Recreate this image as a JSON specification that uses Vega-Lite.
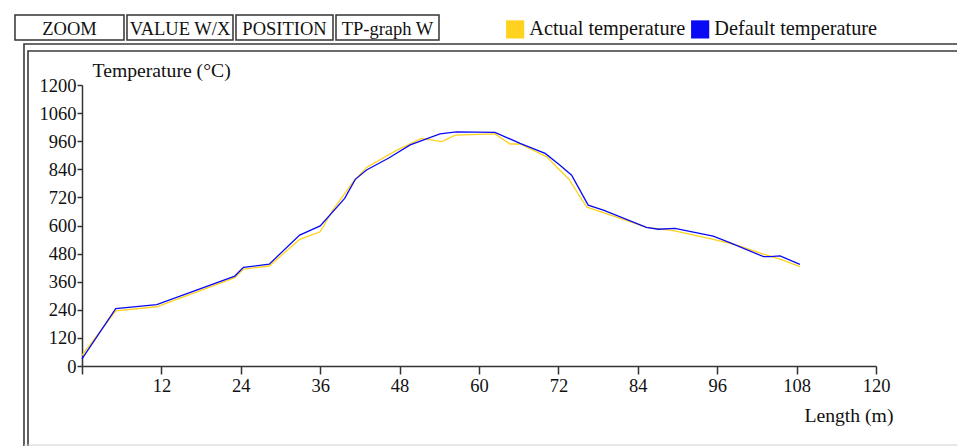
{
  "$schema": "https://vega.github.io/schema/vega-lite/v6.json",
  "width": 794,
  "height": 281,
  "autosize": {"type": "none"},
  "padding": {"left": 82, "top": 85, "right": 81, "bottom": 80},
  "background": "white",
  "config": {
    "view": {"stroke": null},
    "font": "Liberation Serif",
    "axis": {"labelFont": "Liberation Serif", "titleFont": "Liberation Serif", "labelColor": "#111", "titleColor": "#111", "domainColor": "#333", "tickColor": "#333", "domainWidth": 1.5, "tickWidth": 1.5, "grid": false, "labelFontSize": 18.5, "titleFontSize": 19.7, "titleFontWeight": "normal", "labelOverlap": false, "labelFlush": false}
  },
  "datasets": {
    "temps": [
      {"length": 0, "temp": 45, "series": "Actual temperature"},
      {"length": 5.1, "temp": 235, "series": "Actual temperature"},
      {"length": 11.3, "temp": 253, "series": "Actual temperature"},
      {"length": 23.1, "temp": 377, "series": "Actual temperature"},
      {"length": 24.4, "temp": 414, "series": "Actual temperature"},
      {"length": 28.3, "temp": 427, "series": "Actual temperature"},
      {"length": 32.9, "temp": 541, "series": "Actual temperature"},
      {"length": 36, "temp": 573, "series": "Actual temperature"},
      {"length": 37.9, "temp": 666, "series": "Actual temperature"},
      {"length": 41, "temp": 787, "series": "Actual temperature"},
      {"length": 43, "temp": 848, "series": "Actual temperature"},
      {"length": 47.6, "temp": 922, "series": "Actual temperature"},
      {"length": 51.3, "temp": 972, "series": "Actual temperature"},
      {"length": 54.4, "temp": 958, "series": "Actual temperature"},
      {"length": 56.4, "temp": 986, "series": "Actual temperature"},
      {"length": 62.4, "temp": 991, "series": "Actual temperature"},
      {"length": 64.7, "temp": 948, "series": "Actual temperature"},
      {"length": 66.2, "temp": 948, "series": "Actual temperature"},
      {"length": 70.2, "temp": 894, "series": "Actual temperature"},
      {"length": 72.2, "temp": 837, "series": "Actual temperature"},
      {"length": 73.5, "temp": 801, "series": "Actual temperature"},
      {"length": 76.3, "temp": 678, "series": "Actual temperature"},
      {"length": 78.8, "temp": 655, "series": "Actual temperature"},
      {"length": 85.3, "temp": 592, "series": "Actual temperature"},
      {"length": 89.4, "temp": 578, "series": "Actual temperature"},
      {"length": 95.4, "temp": 541, "series": "Actual temperature"},
      {"length": 98.4, "temp": 521, "series": "Actual temperature"},
      {"length": 103, "temp": 478, "series": "Actual temperature"},
      {"length": 105.5, "temp": 456, "series": "Actual temperature"},
      {"length": 108.5, "temp": 424, "series": "Actual temperature"},
      {"length": 0, "temp": 30, "series": "Default temperature"},
      {"length": 5.1, "temp": 245, "series": "Default temperature"},
      {"length": 11.3, "temp": 262, "series": "Default temperature"},
      {"length": 23.1, "temp": 384, "series": "Default temperature"},
      {"length": 24.4, "temp": 421, "series": "Default temperature"},
      {"length": 28.3, "temp": 435, "series": "Default temperature"},
      {"length": 32.9, "temp": 559, "series": "Default temperature"},
      {"length": 36, "temp": 598, "series": "Default temperature"},
      {"length": 39.7, "temp": 716, "series": "Default temperature"},
      {"length": 41.3, "temp": 797, "series": "Default temperature"},
      {"length": 43, "temp": 837, "series": "Default temperature"},
      {"length": 46.3, "temp": 887, "series": "Default temperature"},
      {"length": 49.6, "temp": 944, "series": "Default temperature"},
      {"length": 54.1, "temp": 991, "series": "Default temperature"},
      {"length": 56.6, "temp": 1000, "series": "Default temperature"},
      {"length": 62.4, "temp": 998, "series": "Default temperature"},
      {"length": 66.2, "temp": 951, "series": "Default temperature"},
      {"length": 70, "temp": 908, "series": "Default temperature"},
      {"length": 72.2, "temp": 858, "series": "Default temperature"},
      {"length": 74, "temp": 815, "series": "Default temperature"},
      {"length": 76.5, "temp": 687, "series": "Default temperature"},
      {"length": 78.8, "temp": 666, "series": "Default temperature"},
      {"length": 85.3, "temp": 592, "series": "Default temperature"},
      {"length": 87.1, "temp": 584, "series": "Default temperature"},
      {"length": 89.6, "temp": 588, "series": "Default temperature"},
      {"length": 95.4, "temp": 555, "series": "Default temperature"},
      {"length": 97.9, "temp": 527, "series": "Default temperature"},
      {"length": 103, "temp": 467, "series": "Default temperature"},
      {"length": 104, "temp": 467, "series": "Default temperature"},
      {"length": 105.5, "temp": 470, "series": "Default temperature"},
      {"length": 108.5, "temp": 434, "series": "Default temperature"}
    ]
  },
  "layer": [
    {
      "data": {"values": [{"part": "frame"}]},
      "mark": {"type": "rect", "filled": false, "stroke": "#3a3a3a", "strokeWidth": 1.6},
      "encoding": {
        "x": {"datum": -8.766, "type": "quantitative"},
        "x2": {"datum": 150},
        "y": {"datum": 1375.1, "type": "quantitative"},
        "y2": {"datum": -401.4}
      }
    },
    {
      "data": {"values": [{"part": "frame"}]},
      "mark": {"type": "rect", "filled": false, "stroke": "#3a3a3a", "strokeWidth": 1.6},
      "encoding": {
        "x": {"datum": -8.161, "type": "quantitative"},
        "x2": {"datum": 150},
        "y": {"datum": 1345.2, "type": "quantitative"},
        "y2": {"datum": -401.4}
      }
    },
    {
      "data": {"values": [{"part": "frame"}]},
      "mark": {"type": "rule", "stroke": "#d0d0d0", "strokeWidth": 1},
      "encoding": {
        "x": {"datum": -8.766, "type": "quantitative"},
        "x2": {"datum": 150},
        "y": {"datum": -337.4, "type": "quantitative"}
      }
    },
    {
      "data": {"values": [{"label": "ZOOM"}]},
      "layer": [
        {"mark": {"type": "rect", "fill": "white", "stroke": "#333", "strokeWidth": 1.5},
         "encoding": {"x": {"datum": -10.126, "type": "quantitative"}, "x2": {"datum": 6.347}, "y": {"datum": 1498.9, "type": "quantitative"}, "y2": {"datum": 1392.1}}},
        {"mark": {"type": "text", "fontSize": 18.5, "font": "Liberation Serif", "color": "#111", "baseline": "middle", "align": "center"},
         "encoding": {"x": {"datum": -1.889, "type": "quantitative"}, "y": {"datum": 1440, "type": "quantitative"}, "text": {"field": "label"}}}
      ]
    },
    {
      "data": {"values": [{"label": "VALUE W/X"}]},
      "layer": [
        {"mark": {"type": "rect", "fill": "white", "stroke": "#333", "strokeWidth": 1.5},
         "encoding": {"x": {"datum": 6.801, "type": "quantitative"}, "x2": {"datum": 22.821}, "y": {"datum": 1498.9, "type": "quantitative"}, "y2": {"datum": 1392.1}}},
        {"mark": {"type": "text", "fontSize": 18.5, "font": "Liberation Serif", "color": "#111", "baseline": "middle", "align": "center"},
         "encoding": {"x": {"datum": 14.811, "type": "quantitative"}, "y": {"datum": 1440, "type": "quantitative"}, "text": {"field": "label"}}}
      ]
    },
    {
      "data": {"values": [{"label": "POSITION"}]},
      "layer": [
        {"mark": {"type": "rect", "fill": "white", "stroke": "#333", "strokeWidth": 1.5},
         "encoding": {"x": {"datum": 23.274, "type": "quantitative"}, "x2": {"datum": 37.934}, "y": {"datum": 1498.9, "type": "quantitative"}, "y2": {"datum": 1392.1}}},
        {"mark": {"type": "text", "fontSize": 18.5, "font": "Liberation Serif", "color": "#111", "baseline": "middle", "align": "center"},
         "encoding": {"x": {"datum": 30.604, "type": "quantitative"}, "y": {"datum": 1440, "type": "quantitative"}, "text": {"field": "label"}}}
      ]
    },
    {
      "data": {"values": [{"label": "TP-graph W"}]},
      "layer": [
        {"mark": {"type": "rect", "fill": "white", "stroke": "#333", "strokeWidth": 1.5},
         "encoding": {"x": {"datum": 38.387, "type": "quantitative"}, "x2": {"datum": 53.954}, "y": {"datum": 1498.9, "type": "quantitative"}, "y2": {"datum": 1392.1}}},
        {"mark": {"type": "text", "fontSize": 18.5, "font": "Liberation Serif", "color": "#111", "baseline": "middle", "align": "center"},
         "encoding": {"x": {"datum": 46.17, "type": "quantitative"}, "y": {"datum": 1440, "type": "quantitative"}, "text": {"field": "label"}}}
      ]
    },
    {
      "data": {"name": "temps"},
      "mark": {"type": "line", "strokeWidth": 1.3},
      "encoding": {
        "x": {
          "field": "length", "type": "quantitative",
          "scale": {"domain": [0, 120], "nice": false, "zero": false},
          "axis": {
            "values": [0, 12, 24, 36, 48, 60, 72, 84, 96, 108, 120],
            "tickCount": 30,
            "format": "d", "labelOverlap": false,
            "labelExpr": "datum.value == 0 ? '' : datum.label",
            "tickSize": 8, "labelPadding": 2,
            "title": "Length (m)", "titleAngle": 0, "titleAlign": "right", "titleBaseline": "alphabetic",
            "titleX": 811, "titleY": 55
          }
        },
        "y": {
          "field": "temp", "type": "quantitative",
          "scale": {"domain": [0, 1200], "nice": false, "zero": false},
          "axis": {
            "values": [0, 120, 240, 360, 480, 600, 720, 840, 960, 1080, 1200],
            "tickCount": 30,
            "format": "d", "labelOverlap": false, "labelBound": false,
            "labelExpr": "datum.value == 1080 ? '1060' : datum.label",
            "tickSize": 5, "labelPadding": 1,
            "title": "Temperature (°C)", "titleAngle": 0, "titleAlign": "left", "titleBaseline": "alphabetic",
            "titleX": 10, "titleY": -9
          }
        },
        "color": {
          "field": "series", "type": "nominal",
          "scale": {"domain": ["Actual temperature", "Default temperature"], "range": ["#FFD21F", "#0A0AF5"]},
          "legend": {
            "title": null, "orient": "none", "legendX": 423, "legendY": -66, "direction": "horizontal",
            "symbolType": "square", "symbolSize": 330, "symbolStrokeWidth": 0,
            "labelFont": "Liberation Serif", "labelFontSize": 20.3, "labelColor": "#111", "labelLimit": 400,
            "labelOffset": 4, "columnPadding": 4,
            "encode": {"symbols": {"update": {"fill": {"scale": "color", "field": "value"}, "stroke": {"value": "transparent"}}}}
          }
        },
        "order": {"field": "series"}
      }
    }
  ]
}
